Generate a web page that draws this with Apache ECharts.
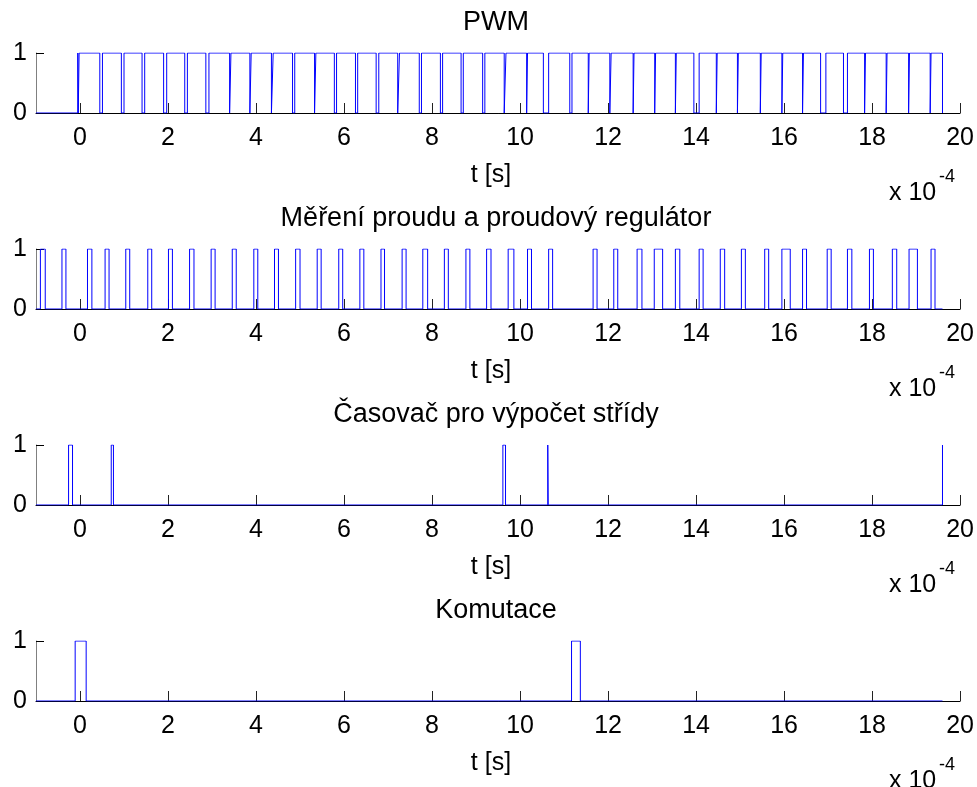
<!DOCTYPE html>
<html>
<head>
<meta charset="utf-8">
<script src="https://cdn.jsdelivr.net/npm/echarts@6/dist/echarts.min.js"></script>
<style>
  html, body { margin: 0; background: #fff; }
  #chart { width: 977px; height: 787px; }
</style>
</head>
<body>
<div id="chart"></div>
<script>
// titulky podgrafů
const titles = ['PWM', 'Měření proudu a proudový regulátor', 'Časovač pro výpočet střídy', 'Komutace'];

// časy přepnutí (x 1e-4 s), každý signál začíná v 0
const pwmEdges = [
  -0.05, -0.04, -0.02, 0.45, 0.51, 0.94, 1.00, 1.41, 1.47, 1.90, 1.97, 2.38, 2.44,
  2.86, 2.93, 3.40, 3.43, 3.86, 3.89, 4.35, 4.39, 4.83, 4.88, 5.33, 5.36, 5.78, 5.83,
  6.26, 6.31, 6.73, 6.79, 7.22, 7.26, 7.71, 7.76, 8.19, 8.24, 8.66, 8.71, 9.15, 9.20,
  9.64, 9.68, 10.15, 10.17, 10.53, 10.65, 11.13, 11.18, 11.55, 11.57, 12.04, 12.07,
  12.57, 12.59, 13.06, 13.08, 13.53, 13.55, 13.95, 14.07, 14.46, 14.48, 14.94, 14.96,
  15.46, 15.48, 15.95, 15.97, 16.42, 16.44, 16.83, 16.95, 17.35, 17.44, 17.83, 17.85,
  18.32, 18.34, 18.83, 18.85, 19.32, 19.34, 19.60
];
const currentEdges = [
  -0.90, -0.79, -0.41, -0.32, 0.17, 0.27, 0.57, 0.66, 1.04, 1.13, 1.54, 1.63,
  2.01, 2.10, 2.49, 2.59, 2.98, 3.07, 3.46, 3.55, 3.95, 4.04, 4.42, 4.51, 4.90, 5.00,
  5.39, 5.48, 5.88, 5.97, 6.36, 6.45, 6.84, 6.92, 7.32, 7.41, 7.79, 7.90, 8.28, 8.37,
  8.77, 8.86, 9.24, 9.34, 9.73, 9.86, 10.17, 10.26, 10.65, 10.74, 11.66, 11.75,
  12.13, 12.22, 12.66, 12.77, 13.05, 13.24, 13.53, 13.63, 14.07, 14.16, 14.55, 14.65,
  15.03, 15.12, 15.56, 15.65, 15.95, 16.14, 16.42, 16.51, 16.98, 17.07, 17.44, 17.54,
  17.94, 18.03, 18.46, 18.56, 18.84, 19.03, 19.34, 19.43
];
const timerEdges = [-0.26, -0.17, 0.71, 0.76, 9.61, 9.67, 10.63, 10.64, 19.60];
const commEdges = [-0.11, 0.14, 11.17, 11.37];
const allEdges = [pwmEdges, currentEdges, timerEdges, commEdges];
const startTime = -1;
const endTime = 19.6;

// popisky os
const xTicks = [0, 2, 4, 6, 8, 10, 12, 14, 16, 18, 20];
const yTicks = [0, 1];
const xName = 't [s]';

const font = "'Liberation Sans', Arial, sans-serif";
const blue = '#0000ff';

function stepData(edges) {
  const pts = [[startTime, 0]];
  let level = 0;
  edges.forEach(t => {
    pts.push([t, level]);
    level = 1 - level;
    pts.push([t, level]);
  });
  pts.push([endTime, level]);
  return pts;
}

const chart = echarts.init(document.getElementById('chart'), null, { renderer: 'canvas' });

const gridTop = 53, gridStep = 196, gridH = 60;
const grids = [], xAxes = [], yAxes = [], series = [], graphic = [];

titles.forEach((title, i) => {
  const top = gridTop + gridStep * i;
  grids.push({ left: 36, width: 925, top: top, height: gridH });
  xAxes.push({
    type: 'value', gridIndex: i, min: -1, max: 20,
    axisLine: { onZero: false, lineStyle: { color: '#000', width: 1 } },
    axisTick: { show: true, inside: true, length: 10, customValues: xTicks, lineStyle: { color: '#222' } },
    axisLabel: { customValues: xTicks, color: '#000', fontSize: 25, fontFamily: font, margin: 13 },
    splitLine: { show: false }
  });
  yAxes.push({
    type: 'value', gridIndex: i, min: 0, max: 1, interval: 1,
    axisLine: { show: true, onZero: false, lineStyle: { color: '#808080', width: 1 } },
    axisTick: { show: true, inside: true, length: 8, customValues: yTicks, lineStyle: { color: '#000' } },
    axisLabel: { customValues: yTicks, color: '#000', fontSize: 25, fontFamily: font, margin: 9 },
    splitLine: { show: false }
  });
  series.push({
    type: 'line', xAxisIndex: i, yAxisIndex: i,
    data: stepData(allEdges[i]),
    showSymbol: false, animation: false,
    lineStyle: { color: blue, width: 1 }
  });
  const dy = gridStep * i;
  graphic.push(
    { type: 'text', x: 496, y: 23 + dy, style: { text: title, font: '27px ' + font, fill: '#000', align: 'center', verticalAlign: 'middle' } },
    { type: 'text', x: 491, y: 175 + dy, style: { text: xName, font: '25px ' + font, fill: '#000', align: 'center', verticalAlign: 'middle' } },
    { type: 'text', x: 889, y: 193 + dy, style: { text: 'x 10', font: '25px ' + font, fill: '#000', align: 'left', verticalAlign: 'middle' } },
    { type: 'text', x: 939, y: 177 + dy, style: { text: '-4', font: '18px ' + font, fill: '#000', align: 'left', verticalAlign: 'middle' } }
  );
});

chart.setOption({
  animation: false,
  grid: grids,
  xAxis: xAxes,
  yAxis: yAxes,
  series: series,
  graphic: graphic
});
</script>
</body>
</html>
